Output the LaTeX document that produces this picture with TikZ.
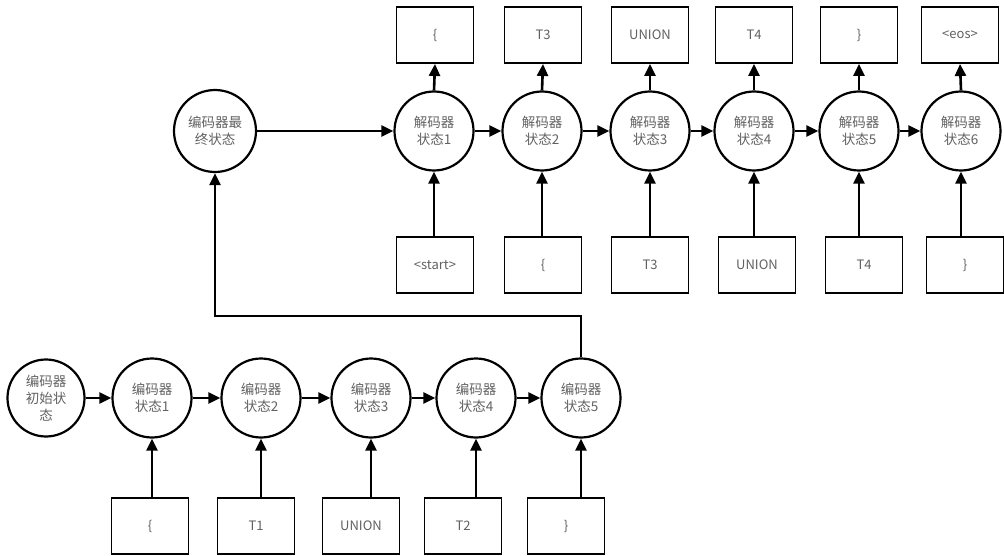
\documentclass[tikz,border=0pt]{standalone}
\usepackage{fontspec}
\setmainfont{Noto Sans CJK SC}
\usetikzlibrary{arrows.meta}
\begin{document}
\begin{tikzpicture}[x=1pt,y=-1pt,
  st/.style={circle,draw=black,line width=2.2pt,minimum size=79pt,inner sep=0pt,align=center,text=black!62,font=\fontsize{13.5}{17}\selectfont},
  tok/.style={rectangle,draw=black,line width=1.9pt,minimum width=77pt,minimum height=56pt,inner sep=0pt,text=black!62,font=\fontsize{13}{16}\selectfont},
  arr/.style={line width=2.6pt,-{Triangle[length=12pt,width=11pt]}}]
\useasboundingbox (0,0) rectangle (1004,556);
% decoder outputs
\node[tok] (o1) at (435,35) {\{};
\node[tok] (o2) at (543,35) {T3};
\node[tok] (o3) at (650,35) {UNION};
\node[tok] (o4) at (754,35) {T4};
\node[tok] (o5) at (859,35) {\}};
\node[tok] (o6) at (960,35) {<eos>};
% decoder states
\node[st] (d1) at (434,131) {解码器\\状态1};
\node[st] (d2) at (542,131) {解码器\\状态2};
\node[st] (d3) at (650,131) {解码器\\状态3};
\node[st] (d4) at (754,131) {解码器\\状态4};
\node[st] (d5) at (859,131) {解码器\\状态5};
\node[st] (d6) at (961,131) {解码器\\状态6};
% decoder inputs
\node[tok] (i1) at (435,265) {<start>};
\node[tok] (i2) at (543,265) {\{};
\node[tok] (i3) at (650,265) {T3};
\node[tok] (i4) at (757,265) {UNION};
\node[tok] (i5) at (864,265) {T4};
\node[tok] (i6) at (965,265) {\}};
% encoder final
\node[st,minimum size=82pt] (ef) at (215,131) {编码器最\\终状态};
% encoder
\node[st,minimum size=77pt] (e0) at (46,398) {编码器\\初始状\\态};
\node[st] (e1) at (152,398) {编码器\\状态1};
\node[st] (e2) at (261,398) {编码器\\状态2};
\node[st] (e3) at (371,398) {编码器\\状态3};
\node[st] (e4) at (476,398) {编码器\\状态4};
\node[st] (e5) at (581,398) {编码器\\状态5};
% encoder inputs
\node[tok] (x1) at (150,526) {\{};
\node[tok] (x2) at (256,526) {T1};
\node[tok] (x3) at (361,526) {UNION};
\node[tok] (x4) at (463,526) {T2};
\node[tok] (x5) at (566,526) {\}};
% arrows
\foreach \a/\b in {e0/e1,e1/e2,e2/e3,e3/e4,e4/e5,d1/d2,d2/d3,d3/d4,d4/d5,d5/d6,ef/d1}
  \draw[arr] (\a) -- (\b);
\foreach \i in {1,...,6}
  \draw[arr] (d\i.north) -- (o\i.south);
\foreach \i in {1,...,6}
  \draw[arr] (i\i.north -| d\i) -- (d\i.south);
\foreach \i in {1,...,5}
  \draw[arr] (x\i.north -| e\i) -- (e\i.south);
\coordinate (c1) at (581,316);
\draw[arr] (e5.north) -- (c1) -- (c1 -| ef) -- (ef.south);
\end{tikzpicture}
\end{document}
